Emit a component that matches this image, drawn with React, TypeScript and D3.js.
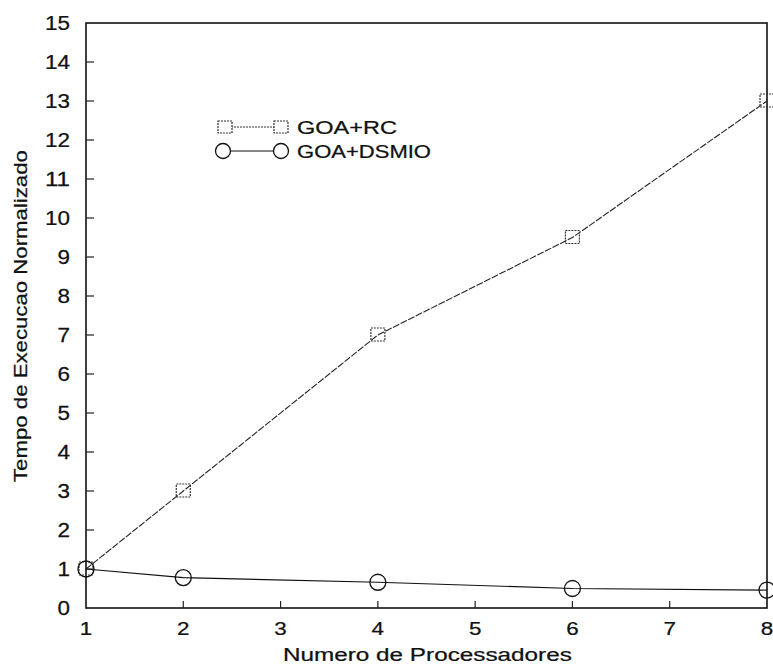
import React, { useLayoutEffect, useRef, useState } from "react";
import * as d3 from "d3";

const xValues = [1, 2, 4, 6, 8];
const rcValues = [1, 3, 7, 9.5, 13];
const dsmioValues = [1, 0.78, 0.66, 0.5, 0.46];
const xTicks = [1, 2, 3, 4, 5, 6, 7, 8];
const yTicks = d3.range(0, 16);
const seriesNames = ["GOA+RC", "GOA+DSMIO"];
const xTitle = "Numero de Processadores";
const yTitle = "Tempo de Execucao Normalizado";

const W = 773, H = 664;
const left = 86, right = 767, top = 23, bottom = 608;
const font = "'Liberation Sans', Arial, Helvetica, sans-serif";

function SText({ x, y, width, size, rotate = 0, children }: { x: number; y: number; width: number; size: number; rotate?: number; children: string }) {
  const ref = useRef<SVGTextElement>(null);
  const [sx, setSx] = useState(1);
  useLayoutEffect(() => {
    if (ref.current) {
      const w = ref.current.getComputedTextLength();
      if (w > 0) setSx(width / w);
    }
  }, [width, children]);
  return (
    <g transform={`translate(${x},${y}) rotate(${rotate}) scale(${sx},1)`}>
      <text ref={ref} x={0} y={0} fontSize={size} fill="#111" stroke="#111" strokeWidth={0.25} fontFamily={font}>{children}</text>
    </g>
  );
}

export default function App() {
  const x = d3.scaleLinear().domain([1, 8]).range([left, right]);
  const y = d3.scaleLinear().domain([0, 15]).range([bottom, top]);
  const line = d3.line<number>().x((_, i) => x(xValues[i])).y((d) => y(d));
  const sq = 14;
  const numW = (t: number) => (String(t).length === 1 ? 12.5 : 25);
  return (
    <svg width={W} height={H} style={{ position: "absolute", left: 0, top: 0, background: "#fff" }} fontFamily={font}>
      <rect x={0} y={0} width={W} height={H} fill="#fff" />
      <rect x={left} y={top} width={right - left} height={bottom - top} fill="none" stroke="#111" strokeWidth={1.6} />
      {yTicks.map((t) => (
        <g key={"y" + t}>
          {t > 0 && t < 15 && <line x1={left} x2={left + 8} y1={y(t)} y2={y(t)} stroke="#222" strokeWidth={1.2} />}
          <SText x={70 - numW(t)} y={y(t) + 7} width={numW(t)} size={19.5}>{String(t)}</SText>
        </g>
      ))}
      {xTicks.map((t) => (
        <g key={"x" + t}>
          {t > 1 && t < 8 && <line x1={x(t)} x2={x(t)} y1={bottom} y2={bottom - 7} stroke="#222" strokeWidth={1.2} />}
          <SText x={x(t) - 6.25} y={635} width={12.5} size={19}>{String(t)}</SText>
        </g>
      ))}
      <SText x={283} y={661} width={289} size={19}>{xTitle}</SText>
      <SText x={27} y={482} rotate={-90} width={332} size={19}>{yTitle}</SText>
      <path d={line(rcValues) || ""} fill="none" stroke="#222" strokeWidth={1.1} strokeDasharray="7 1.5" />
      {rcValues.map((v, i) => (
        <rect key={"r" + i} x={x(xValues[i]) - sq / 2} y={y(v) - sq / 2} width={sq} height={sq - 1} fill="none" stroke="#333" strokeWidth={1.2} strokeDasharray="2 1" />
      ))}
      <path d={line(dsmioValues) || ""} fill="none" stroke="#111" strokeWidth={1.2} />
      {dsmioValues.map((v, i) => (
        <circle key={"c" + i} cx={x(xValues[i])} cy={y(v)} r={8} fill="none" stroke="#111" strokeWidth={1.3} />
      ))}
      <g>
        <line x1={225} x2={281} y1={127} y2={127} stroke="#333" strokeWidth={1} strokeDasharray="2 1" />
        <rect x={218} y={121} width={14} height={12} fill="#fff" stroke="#333" strokeWidth={1.2} strokeDasharray="2 1" />
        <rect x={274} y={121} width={14} height={12} fill="#fff" stroke="#333" strokeWidth={1.2} strokeDasharray="2 1" />
        <SText x={297} y={134} width={100} size={18}>{seriesNames[0]}</SText>
        <line x1={223} x2={281} y1={151} y2={151} stroke="#111" strokeWidth={1.2} />
        <circle cx={223} cy={151} r={7.5} fill="#fff" stroke="#111" strokeWidth={1.3} />
        <circle cx={281} cy={151} r={7.5} fill="#fff" stroke="#111" strokeWidth={1.3} />
        <SText x={297} y={158} width={134} size={18}>{seriesNames[1]}</SText>
      </g>
    </svg>
  );
}
